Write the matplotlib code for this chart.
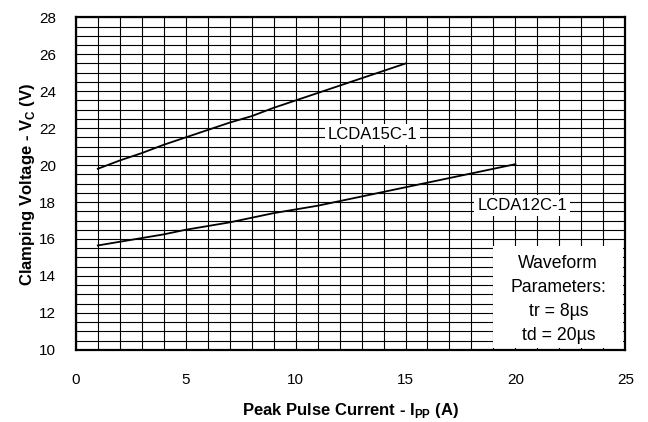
import matplotlib
matplotlib.use("Agg")
import matplotlib.pyplot as plt
from matplotlib.patches import Rectangle
import numpy as np

plt.rcParams['font.family'] = ['Liberation Sans', 'DejaVu Sans']
plt.rcParams['mathtext.fontset'] = 'custom'
plt.rcParams['mathtext.rm'] = 'Liberation Sans'
plt.rcParams['mathtext.bf'] = 'Liberation Sans:bold'

# Data
ipp_15 = [1, 2, 3, 4, 5, 6, 7, 8, 9, 10, 11, 12, 13, 14, 15]
vc_15 = [19.8, 20.25, 20.65, 21.1, 21.5, 21.9, 22.3, 22.65, 23.1, 23.5, 23.9, 24.3, 24.7, 25.1, 25.5]
ipp_12 = [1, 2, 3, 4, 5, 6, 7, 8, 9, 10, 11, 12, 13, 14, 15, 16, 17, 18, 19, 20]
vc_12 = [15.65, 15.85, 16.05, 16.25, 16.5, 16.7, 16.9, 17.15, 17.4, 17.6, 17.8, 18.05, 18.3,
         18.55, 18.8, 19.05, 19.3, 19.55, 19.8, 20.05]
x_ticks = [0, 5, 10, 15, 20, 25]
y_ticks = [10, 12, 14, 16, 18, 20, 22, 24, 26, 28]

fig = plt.figure(figsize=(6.48, 4.22), dpi=100)
ax = fig.add_axes([0.117, 0.171, 0.848, 0.788])

ax.set_xlim(0, 25)
ax.set_ylim(10, 28)
ax.set_xticks(x_ticks)
ax.set_yticks(y_ticks)
ax.set_xticks(np.arange(0, 26, 1), minor=True)
ax.set_yticks(np.arange(10, 28.01, 0.5), minor=True)
ax.grid(True, which='both', color='black', linewidth=0.8)
ax.set_axisbelow(True)
ax.tick_params(which='both', length=0)
ax.tick_params(axis='x', pad=17, labelsize=11)
ax.tick_params(axis='y', pad=14, labelsize=11)
for s in ax.spines.values():
    s.set_linewidth(1.6)

ax.plot(ipp_15, vc_15, color='black', linewidth=1.3, zorder=3)
ax.plot(ipp_12, vc_12, color='black', linewidth=1.3, zorder=3)

ax.text(13.5, 21.65, 'LCDA15C-1', ha='center', va='center', fontsize=12, zorder=4,
        bbox=dict(facecolor='white', edgecolor='none', pad=2))
ax.text(20.3, 17.8, 'LCDA12C-1', ha='center', va='center', fontsize=12, zorder=4,
        bbox=dict(facecolor='white', edgecolor='none', pad=2))
ax.add_patch(Rectangle((19.0, 10.12), 5.9, 15.6 - 10.12, facecolor='white', edgecolor='none', zorder=3))
ax.text(21.95, 12.72, 'Waveform\nParameters:\ntr = 8µs\ntd = 20µs', ha='center', va='center',
        fontsize=12.7, linespacing=1.55, zorder=4)

fig.text(350 / 648, 1 - 410 / 422, r'Peak Pulse Current - I$_\mathbf{PP}$ (A)', fontsize=12,
         fontweight='bold', ha='center', va='center')
fig.text(28 / 648, 1 - 184 / 422, r'Clamping Voltage - V$_\mathbf{C}$ (V)', fontsize=12,
         fontweight='bold', ha='center', va='center', rotation=90)

fig.savefig('out.png', dpi=100)
